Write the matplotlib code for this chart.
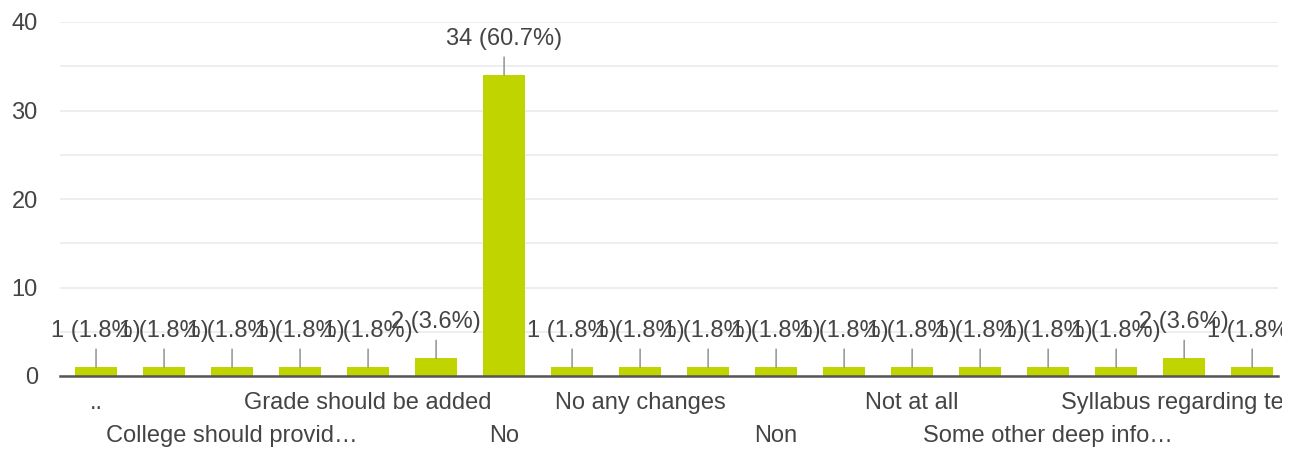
import matplotlib
matplotlib.use("Agg")
import matplotlib.pyplot as plt
from matplotlib.transforms import Bbox, TransformedBbox

plt.rcParams['font.family'] = ['Liberation Sans', 'DejaVu Sans']

# ---- data ----
categories = ["..", "", "College should provid…", "", "Grade should be added", "",
              "No", "", "No any changes", "", "Non", "", "Not at all", "",
              "Some other deep info…", "", "Syllabus regarding te…", ""]
counts = [1, 1, 1, 1, 1, 2, 34, 1, 1, 1, 1, 1, 1, 1, 1, 1, 2, 1]
total_responses = 56
y_ticks = [0, 10, 20, 30, 40]

bar_color = "#c0d400"
text_color = "#444444"

W, H, DPI = 1302, 450, 100
fig = plt.figure(figsize=(W / DPI, H / DPI), dpi=DPI)
ax = fig.add_axes([60 / W, 74 / H, (1278 - 60) / W, (376 - 22) / H])

x = list(range(len(counts)))
ax.bar(x, counts, width=0.62, color=bar_color, zorder=3)

ax.set_xlim(-0.53, 17.38)
ax.set_ylim(0, 40)
ax.set_yticks(y_ticks)
ax.set_yticks([5, 15, 25, 35], minor=True)
ax.tick_params(axis='y', which='both', length=0, pad=16, labelsize=17, labelcolor=text_color)
ax.tick_params(axis='x', which='both', length=0, labelbottom=False)
ax.grid(axis='y', which='both', color='#ebebeb', lw=1.2, zorder=0)
for s in ['top', 'right', 'left']:
    ax.spines[s].set_visible(False)
ax.spines['bottom'].set_color('#555555')
ax.spines['bottom'].set_linewidth(1.8)
ax.spines['bottom'].set_zorder(4)

clip = TransformedBbox(Bbox([[0, 0], [1282 / W, 1]]), fig.transFigure)

# data labels with leader lines
for i, v in enumerate(counts):
    pct = v / total_responses * 100
    a = ax.annotate(f"{v} ({pct:.1f}%)", xy=(i, v), xytext=(0, 18),
                    textcoords='offset points', ha='center', va='bottom',
                    fontsize=17, color=text_color, zorder=5, annotation_clip=False,
                    arrowprops=dict(arrowstyle='-', color='#888888', lw=1,
                                    shrinkA=3, shrinkB=0))
    a.set_clip_on(True)
    a.set_clip_box(clip)

# category labels in two alternating rows
row = 0
for i, lab in enumerate(categories):
    if not lab:
        continue
    yy = -27 / 354 if row == 0 else -60 / 354
    t = ax.text(i, yy, lab, transform=ax.get_xaxis_transform(), ha='center',
                va='center', fontsize=17, color=text_color, clip_on=True)
    t.set_clip_box(clip)
    row = 1 - row

fig.savefig("out.png", dpi=DPI, facecolor='white')
